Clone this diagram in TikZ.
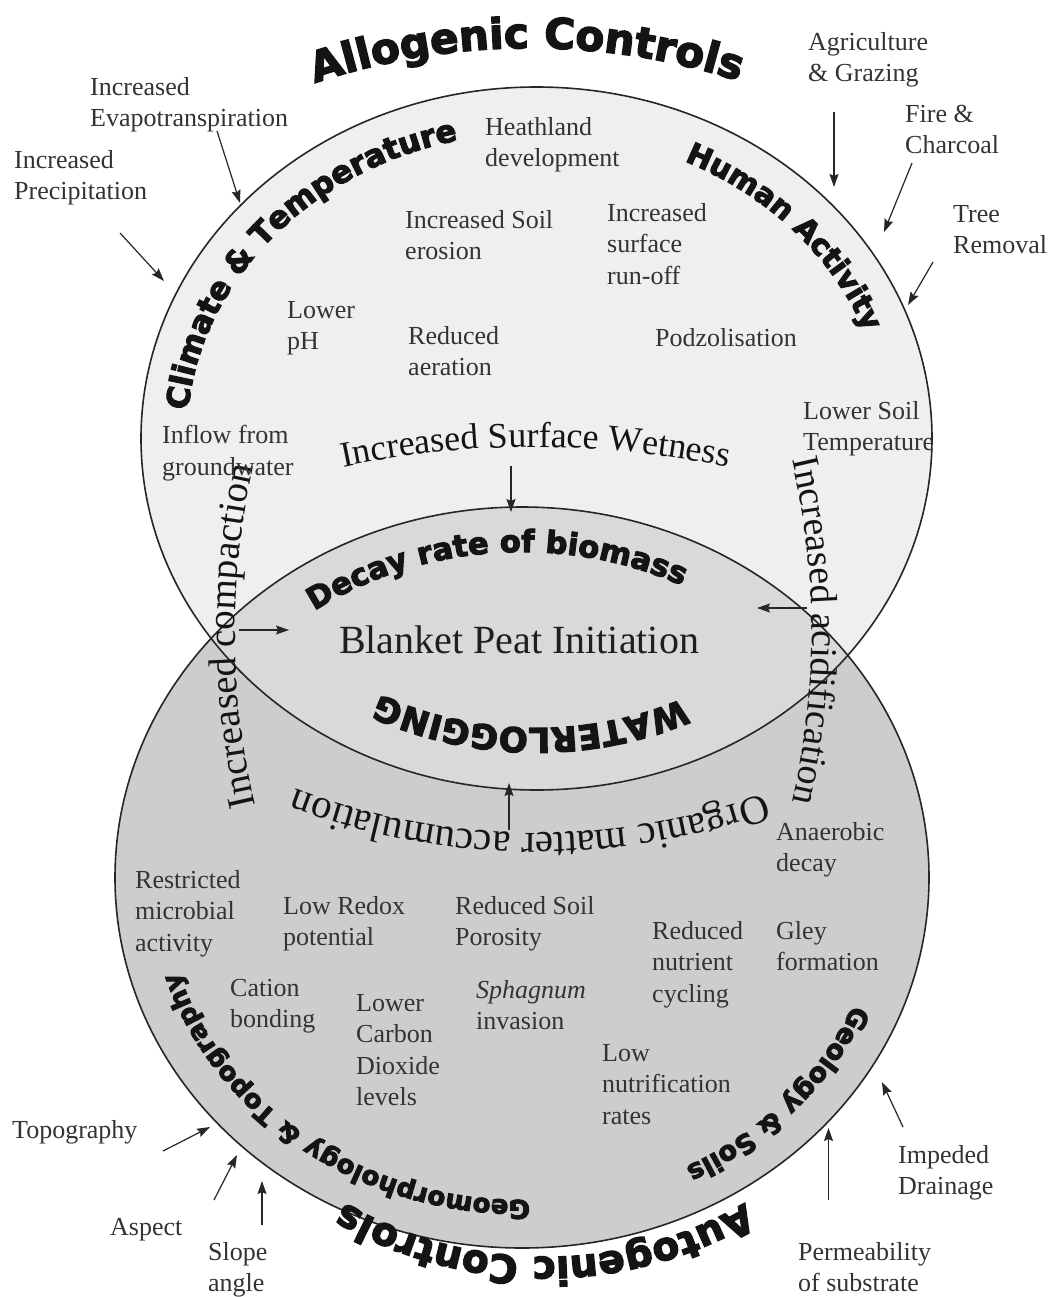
\documentclass[tikz,border=0pt]{standalone}
\usepackage{fontspec}
\setmainfont{Liberation Serif}
\newfontfamily\heavy{DejaVu Sans}[UprightFont={* Bold},FakeBold=3.5]
\usetikzlibrary{arrows.meta,decorations.text}
\definecolor{upperfill}{HTML}{EFEFEF}
\definecolor{lowerfill}{HTML}{CDCDCD}
\definecolor{lensfill}{HTML}{D9D9D9}
\begin{document}
\begin{tikzpicture}[x=1pt,y=-1pt,
  outline/.style={draw=black!85, line width=1.6pt},
  lab/.style={anchor=north west, inner sep=0pt, align=left, font=\fontsize{26}{31.5}\selectfont, text=black!80},
  arr/.style={draw=black!85, line width=1.2pt, -{Stealth[length=13pt,width=9pt,inset=2pt]}},
]
\useasboundingbox (0,0) rectangle (1054,1297);
\fill[white] (0,0) rectangle (1054,1297);
\coordinate (U) at (536.5,438.5);
\coordinate (L) at (522,877.5);
% ellipses
\fill[lowerfill] (L) ellipse[x radius=407, y radius=370.5];
\fill[upperfill] (U) ellipse[x radius=395.5, y radius=351.5];
\begin{scope}
\clip (L) ellipse[x radius=407, y radius=370.5];
\fill[lensfill] (U) ellipse[x radius=395.5, y radius=351.5];
\end{scope}
\draw[outline] (L) ellipse[x radius=407, y radius=370.5];
\draw[outline] (U) ellipse[x radius=395.5, y radius=351.5];

% centres of text arcs
\coordinate (alloC) at (530,726);
\coordinate (autoC) at (545,862);
\coordinate (surfC) at (535,1378);
\coordinate (acidC) at (62,632);
\coordinate (orgC) at (537,156);
\coordinate (compC) at (985,633);

% heavy curved labels
\path[decorate,decoration={text along path,text color=black!92,
  text={|\heavy\fontsize{42}{42}\selectfont|Allogenic Controls}}]
  ([shift={(alloC)}]251.5:678) arc[start angle=251.5,end angle=300,radius=678];
\path[decorate,decoration={text along path,text color=black!92,
  text={|\heavy\fontsize{39}{39}\selectfont|Autogenic Controls}}]
  ([shift={(autoC)}]59.6:395) arc[start angle=59.6,end angle=140,radius=395];
\path[decorate,decoration={text along path,text color=black!92,
  text={|\heavy\fontsize{31}{31}\selectfont|Climate {\&} Temperature}}]
  ([shift={(U)}]185.25:350 and 306) arc[start angle=185.25,end angle=270,x radius=350,y radius=306];
\path[decorate,decoration={text along path,text color=black!92,
  text={|\heavy\fontsize{29.5}{29.5}\selectfont|Human Activity}}]
  ([shift={(U)}]295:350 and 306) arc[start angle=295,end angle=352,x radius=350,y radius=306];
\path[decorate,decoration={text along path,text color=black!92,
  text={|\heavy\fontsize{30.5}{30.5}\selectfont|Decay rate of biomass}}]
  ([shift={(L)}]235:362 and 325.5) arc[start angle=235,end angle=312,x radius=362,y radius=325.5];
\path[decorate,decoration={text along path,text color=black!92,
  text={|\heavy\fontsize{34}{34}\selectfont|WATERLOGGING}}]
  ([shift={(U)}]64:333.5 and 289.5) arc[start angle=64,end angle=132,x radius=333.5,y radius=289.5];
\path[decorate,decoration={text along path,text color=black!92,
  text={|\heavy\fontsize{26}{26}\selectfont|Geomorphology {\&} Topography}}]
  ([shift={(L)}]88.7:359 and 322.5) arc[start angle=88.7,end angle=178,x radius=359,y radius=322.5];
\path[decorate,decoration={text along path,text color=black!92,
  text={|\heavy\fontsize{27}{27}\selectfont|Geology {\&} Soils}}]
  ([shift={(L)}]23:360 and 325) arc[start angle=23,end angle=82,x radius=360,y radius=325];

% serif ring labels
\path[decorate,decoration={text along path,text color=black!92,
  text={|\fontsize{36}{36}\selectfont|Increased Surface Wetness}}]
  ([shift={(surfC)}]258.1:931) arc[start angle=258.1,end angle=290,radius=931];
\path[decorate,decoration={text along path,text color=black!92,
  text={|\fontsize{38}{38}\selectfont|Increased acidification}}]
  ([shift={(acidC)}]-13.26:750) arc[start angle=-13.26,end angle=25,radius=750];
\path[decorate,decoration={text along path,text color=black!92,
  text={|\fontsize{41}{41}\selectfont|Organic matter accumulation}}]
  ([shift={(orgC)}]70.4:677) arc[start angle=70.4,end angle=125,radius=677];
\path[decorate,decoration={text along path,text color=black!92,
  text={|\fontsize{39}{39}\selectfont|Increased compaction}}]
  ([shift={(compC)}]166.74:750) arc[start angle=166.74,end angle=200,radius=750];

% centre label
\node[font=\fontsize{40}{44}\selectfont, text=black!88, anchor=base, inner sep=0pt] (bpi) at (519,653) {Blanket Peat Initiation};

% straight labels
\node[lab] (evap) at (90,77) {Increased\\Evapotranspiration};
\node[lab] (precip) at (14,150) {Increased\\Precipitation};
\node[lab] (agri) at (808,32) {Agriculture\\\& Grazing};
\node[lab] (fire) at (905,105) {Fire \&\\Charcoal};
\node[lab] (tree) at (953,205) {Tree\\Removal};
\node[lab] (heath) at (485,117) {Heathland\\development};
\node[lab] (erosion) at (405,210) {Increased Soil\\erosion};
\node[lab] (runoff) at (607,203) {Increased\\surface\\run-off};
\node[lab] (ph) at (287,301) {Lower\\pH};
\node[lab] (aeration) at (408,326) {Reduced\\aeration};
\node[lab] (podzol) at (655,328) {Podzolisation};
\node[lab] (lowsoil) at (803,401) {Lower Soil\\Temperature};
\node[lab] (inflow) at (162,425) {Inflow from\\groundwater};
\node[lab] (anaer) at (776,822) {Anaerobic\\decay};
\node[lab] (micro) at (135,870) {Restricted\\microbial\\activity};
\node[lab] (redox) at (283,896) {Low Redox\\potential};
\node[lab] (poros) at (455,896) {Reduced Soil\\Porosity};
\node[lab] (nutr) at (652,921) {Reduced\\nutrient\\cycling};
\node[lab] (gley) at (776,921) {Gley\\formation};
\node[lab] (cation) at (230,979) {Cation\\bonding};
\node[lab] (co2) at (356,994) {Lower\\Carbon\\Dioxide\\levels};
\node[lab] (sphag) at (476,980) {\textit{Sphagnum}\\invasion};
\node[lab] (nutrif) at (602,1044) {Low\\nutrification\\rates};
\node[lab] (topo) at (12,1120) {Topography};
\node[lab] (aspect) at (110,1218) {Aspect};
\node[lab] (slope) at (208,1242) {Slope\\angle};
\node[lab] (imped) at (898,1145) {Impeded\\Drainage};
\node[lab] (perm) at (798,1242) {Permeability\\of substrate};

% arrows
\coordinate (a1s) at (217,131);   \coordinate (a1e) at (240,203);
\coordinate (a2s) at (120,233);   \coordinate (a2e) at (164,281);
\coordinate (a3s) at (834,112);   \coordinate (a3e) at (834,187);
\coordinate (a4s) at (912,163);   \coordinate (a4e) at (884,232);
\coordinate (a5s) at (933,262);   \coordinate (a5e) at (908,305);
\coordinate (a6s) at (511,466);   \coordinate (a6e) at (511,512);
\coordinate (a7s) at (239,630);   \coordinate (a7e) at (289,630);
\coordinate (a8s) at (807,608);   \coordinate (a8e) at (757,608);
\coordinate (a9s) at (509,830);   \coordinate (a9e) at (509,783);
\coordinate (a10s) at (163,1151); \coordinate (a10e) at (210,1127);
\coordinate (a11s) at (214,1200); \coordinate (a11e) at (237,1155);
\coordinate (a12s) at (262,1225); \coordinate (a12e) at (262,1181);
\coordinate (a13s) at (828.5,1200); \coordinate (a13e) at (828.5,1128);
\coordinate (a14s) at (903,1127); \coordinate (a14e) at (882,1082);
\foreach \i in {1,...,14} { \draw[arr] (a\i s) -- (a\i e); }
\end{tikzpicture}
\end{document}
